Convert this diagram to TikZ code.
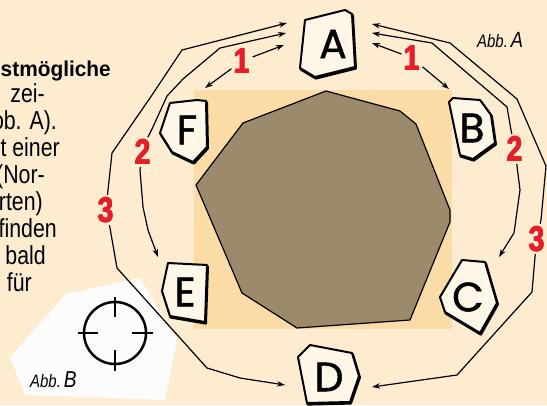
\documentclass[tikz,border=0pt]{standalone}
\usepackage{fontspec}
\setmainfont{Liberation Sans}
\newfontfamily\condfont[FakeStretch=0.82]{Liberation Sans}
\newfontfamily\abbfont[FakeStretch=0.83]{Liberation Sans}
\newfontfamily\boldcond[FakeStretch=0.97]{Liberation Sans}
\newfontfamily\redfont[FakeStretch=0.8]{Liberation Sans}
\newfontfamily\tokfont[FakeBold=1.2]{Poppins}
\newcommand\heavytxt[1]{\makebox[0pt][l]{\kern1.2pt#1}\makebox[0pt][l]{\kern0.6pt\raisebox{0.6pt}{#1}}\makebox[0pt][l]{\kern0.6pt\raisebox{-0.6pt}{#1}}#1\kern1.2pt}
\usetikzlibrary{arrows.meta}
\definecolor{bgc}{RGB}{253,236,208}
\definecolor{sqc}{RGB}{251,219,166}
\definecolor{hepc}{RGB}{155,139,108}
\definecolor{tokfill}{RGB}{255,247,232}
\definecolor{lblred}{RGB}{230,30,40}
\definecolor{abbw}{RGB}{252,252,251}
\tikzset{
  tokbox/.style={draw=black, line width=2pt, fill=tokfill, line join=round},
  tokshadow/.style={draw=black, line width=2.4pt, line join=round},
  tokletter/.style={font=\tokfont\fontsize{41}{41}\selectfont, inner sep=0pt},
  conn/.style={line width=1.2pt, line join=round, -{Stealth[length=8pt,width=5.5pt]}},
  lbl/.style={text=lblred, font=\redfont\bfseries\fontsize{35}{35}\selectfont, inner sep=2pt},
  txt/.style={font=\condfont\fontsize{26}{28}\selectfont, anchor=base east, inner sep=0pt},
  abb/.style={font=\abbfont\itshape\fontsize{18}{18}\selectfont, anchor=base west, inner sep=0pt}
}
\begin{document}
\begin{tikzpicture}[x=1pt,y=-1pt]
\useasboundingbox (0,0) rectangle (547,405);
\clip (0,0) rectangle (547,405);
\fill[bgc] (0,0) rectangle (547,405);

% central square and heptagon
\fill[sqc] (194,90) rectangle (452,329);
\filldraw[fill=hepc, draw=black, line width=1.2pt, line join=round]
  (326,91) -- (400,111) -- (416,124) -- (450,210) -- (450,222) -- (410,320)
  -- (297,328) -- (242,293) -- (196,185) -- (243,123) -- cycle;

% Abb. B region
\fill[abbw] (66,294) -- (140,278) -- (177,340) -- (165,400) -- (25,395) -- (10,357) -- cycle;
\node[circle, draw=black, line width=2.5pt, minimum size=62pt, inner sep=0pt] (cross) at (115,333) {};
\draw[line width=1.6pt] (78,333) -- (98,333) (132,333) -- (153,333)
  (115,297) -- (115,317) (115,350) -- (115,371);
\node[abb] (abbB) at (30,387) {Abb.\,{\fontsize{23}{23}\selectfont B}};
\node[abb] (abbA) at (477,47) {Abb.\,{\fontsize{22}{22}\selectfont A}};

% left text column
\node[txt, font=\boldcond\bfseries\fontsize{21.5}{24}\selectfont] (t0) at (111,76) {stmögliche};
\node[txt] (t1) at (45,102) {zei-};
\node[txt] (t2) at (57,129) {ob. A).};
\node[txt] (t3) at (60,156) {it einer};
\node[txt] (t4) at (45,183) {(Nor-};
\node[txt] (t5) at (43,210) {arten)};
\node[txt] (t6) at (57,237) {efinden};
\node[txt] (t7) at (46,264) {bald};
\node[txt] (t8) at (32,291) {für};

% tokens
\foreach \pts in {
  {(305,20) -- (345,10) -- (352,14) -- (355,67) -- (315,77) -- (300,68) -- cycle},
  {(449,102) -- (453,98) -- (480,100) -- (491,115) -- (495,143) -- (473,159) -- (460,155) -- cycle},
  {(462,260) -- (485,262) -- (497,303) -- (480,333) -- (445,312) -- (440,297) -- cycle},
  {(310,345) -- (298,357) -- (307,403) -- (350,402) -- (359,376) -- (352,353) -- cycle},
  {(168,263) -- (207,265) -- (205,322) -- (170,316) -- (162,291) -- cycle},
  {(170,103) -- (197,100) -- (206,101) -- (207,147) -- (193,162) -- (172,152) -- (160,133) -- cycle}
}{
  \draw[tokshadow, shift={(0.8,1.4)}] \pts;
  \filldraw[tokbox] \pts;
}
\node[tokletter] (A) at (333,44) {A};
\node[tokletter] (B) at (472,128) {B};
\node[tokletter] (C) at (468,297) {C};
\node[tokletter] (D) at (329,377) {D};
\node[tokletter] (E) at (185,292) {E};
\node[tokletter] (F) at (187,130) {F};

% labels
\node[lbl] (l1L) at (242,61) {\heavytxt{1}};
\node[lbl] (l1R) at (412,58) {\heavytxt{1}};
\node[lbl] (l2L) at (143,152) {\heavytxt{2}};
\node[lbl] (l2R) at (515,149) {\heavytxt{2}};
\node[lbl] (l3L) at (106,210) {\heavytxt{3}};
\node[lbl] (l3R) at (537,239) {\heavytxt{3}};

% arrow end points
\coordinate (aA1L) at (284,45);
\coordinate (aA2L) at (286,33);
\coordinate (aA3L) at (287,23);
\coordinate (aA1R) at (372,43);
\coordinate (aA2R) at (372,33);
\coordinate (aA3R) at (372,24);
\coordinate (aF) at (205,88);
\coordinate (aB) at (449,89);
\coordinate (aE) at (158,257);
\coordinate (aC) at (499,257);
\coordinate (aDL) at (285,385);
\coordinate (aDR) at (372,387);

% 1
\draw[conn] (l1L) -- (aA1L);
\draw[conn] (l1L) -- (aF);
\draw[conn] (l1R) -- (aA1R);
\draw[conn] (l1R) -- (aB);
% 2
\draw[conn] (l2L) -- (148,137) -- (152,129) -- (167,96) -- (183,79) -- (220,48) -- (aA2L);
\draw[conn] (l2L) -- (140,170) -- (143,207) -- (148,230) -- (aE);
\draw[conn] (l2R) -- (511,130) -- (507,107) -- (432,43) -- (aA2R);
\draw[conn] (l2R) -- (517,166) -- (520,190) -- (514,233) -- (aC);
% 3
\draw[conn] (l3L) -- (108,190) -- (112,153) -- (150,98) -- (182,50) -- (aA3L);
\draw[conn] (l3L) -- (110,228) -- (117,268) -- (207,368) -- (240,378) -- (aDL);
\draw[conn] (l3R) -- (541,220) -- (546,166) -- (517,99) -- (450,43) -- (aA3R);
\draw[conn] (l3R) -- (535,257) -- (532,292) -- (457,375) -- (aDR);
\end{tikzpicture}
\end{document}
